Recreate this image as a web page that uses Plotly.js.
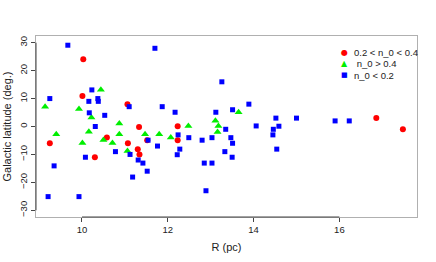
<!DOCTYPE html>
<html>
<head>
<meta charset="utf-8">
<script src="https://cdn.plot.ly/plotly-3.0.1.min.js"></script>
<style>html,body{margin:0;padding:0;background:#fff;} #chart{width:436px;height:262px;}</style>
</head>
<body>
<div id="chart"></div>
<script>
// Red: 0.2 < n_0 < 0.4
const redR = [10.03, 10.01, 11.06, 11.33, 9.25, 10.58, 11.07, 10.30, 11.30, 11.34, 11.52, 12.23, 12.23, 16.86, 17.48];
const redB = [24.1, 10.9, 8.0, -0.2, -6.0, -3.9, -6.0, -11.0, -8.1, -10.0, -4.9, 0.1, -4.9, 3.0, -1.0];

// Green: n_0 > 0.4
const greenR = [10.44, 9.14, 9.93, 10.22, 10.87, 9.40, 10.16, 10.01, 10.50, 10.87, 10.71, 11.06, 11.47, 11.80, 12.07, 12.48, 13.11, 13.18, 13.16, 13.65];
const greenB = [13.2, 7.1, 6.3, 3.2, 1.1, -2.8, -1.9, -5.9, -4.8, -2.8, -5.9, -8.8, -2.8, -2.8, -3.9, 0.2, 2.1, 0.2, -2.0, 5.1];

// Blue: n_0 < 0.2
const blueR = [9.67, 11.70, 10.23, 9.25, 10.37, 10.16, 10.38, 11.10, 11.87, 10.17, 10.53, 10.31, 13.26, 13.89, 13.51, 13.12, 12.17, 14.52, 14.06, 14.59, 13.35, 14.46, 15.00, 15.90, 16.23, 10.78, 10.08, 11.12, 11.54, 11.76, 11.31, 11.42, 11.52, 11.18, 9.35, 9.21, 9.93, 12.24, 12.49, 12.28, 12.22, 12.80, 13.03, 13.47, 13.51, 13.33, 13.50, 12.85, 13.03, 12.89, 14.45, 14.54];
const blueB = [29.1, 28.0, 13.1, 10.0, 10.0, 9.0, 9.0, 7.1, 7.1, 4.9, 4.0, 0.0, 16.0, 8.0, 6.0, 5.1, 5.1, 3.0, 0.2, 0.1, -1.0, -1.0, 3.0, 2.0, 2.0, -9.0, -11.0, -10.0, -4.9, -7.0, -12.0, -13.1, -16.0, -18.1, -14.1, -25.1, -25.1, -3.0, -4.0, -8.1, -10.1, -4.9, -4.0, -4.0, -6.0, -9.0, -11.0, -13.1, -13.1, -23.0, -3.0, -8.1];

const xTicks = [10, 12, 14, 16];
const yTicks = [-30, -20, -10, 0, 10, 20, 30];
const legendLabels = ['0.2 &lt; n_0 &lt; 0.4', ' n_0 &gt; 0.4', 'n_0 &lt; 0.2'];

const FONT = 'Liberation Sans, Arial, sans-serif';

const traces = [
  {x: redR, y: redB, name: '0.2 < n_0 < 0.4', type: 'scatter', mode: 'markers',
   marker: {symbol: 'circle', size: 6, color: '#ff0000'}, showlegend: false},
  {x: greenR, y: greenB, name: 'n_0 > 0.4', type: 'scatter', mode: 'markers',
   marker: {symbol: 'triangle-up', size: 7, color: '#00ee00'}, showlegend: false},
  {x: blueR, y: blueB, name: 'n_0 < 0.2', type: 'scatter', mode: 'markers',
   marker: {symbol: 'square', size: 5, color: '#0000ff'}, showlegend: false}
];

const legSym = [
  {t: '●', c: '#ff0000', s: 8},
  {t: '▲', c: '#00ee00', s: 8},
  {t: '■', c: '#0000ff', s: 7}
];
const legY = [0.9116, 0.847, 0.7845];
const annotations = [];
legendLabels.forEach((lab, i) => {
  annotations.push({xref: 'paper', yref: 'paper', x: 0.811, y: legY[i], xanchor: 'center', yanchor: 'middle',
    text: legSym[i].t, showarrow: false, font: {family: 'DejaVu Sans', size: legSym[i].s, color: legSym[i].c}});
  annotations.push({xref: 'paper', yref: 'paper', x: 0.8294, y: legY[i], xanchor: 'left', yanchor: 'middle',
    text: lab.replace(/^ /, '&#160;'), showarrow: false, font: {family: FONT, size: 9.5, color: '#222'}});
});

const layout = {
  width: 436, height: 262,
  margin: {l: 36, r: 19, t: 36, b: 45, pad: 0},
  paper_bgcolor: '#fff', plot_bgcolor: '#fff',
  font: {family: FONT, size: 9.5, color: '#222'},
  showlegend: false,
  xaxis: {
    range: [8.928, 17.809], tickvals: xTicks, ticktext: xTicks.map(String),
    ticks: 'outside', ticklen: 4, tickcolor: '#444', tickwidth: 1,
    showgrid: false, zeroline: false,
    showline: true, mirror: true, linecolor: '#b0b0b0', linewidth: 1,
    tickfont: {family: FONT, size: 9.5, color: '#222'},
    title: {text: 'R (pc)', font: {family: FONT, size: 11, color: '#222'}, standoff: 8}
  },
  yaxis: {
    range: [-32.4, 32.4], tickvals: yTicks, ticktext: yTicks.map(v => v < 0 ? '\u2212' + Math.abs(v) : String(v)),
    ticks: 'outside', ticklen: 4, tickcolor: '#444', tickwidth: 1, tickangle: -90,
    showgrid: false, zeroline: false,
    showline: true, mirror: true, linecolor: '#b0b0b0', linewidth: 1,
    tickfont: {family: FONT, size: 9.5, color: '#222'},
    title: {text: 'Galactic latitude (deg.)', font: {family: FONT, size: 11, color: '#222'}, standoff: 4}
  },
  shapes: [
    {type: 'line', xref: 'x', yref: 'paper', x0: xTicks[0], x1: xTicks[xTicks.length - 1], y0: 0, y1: 0,
     line: {color: '#444', width: 1}},
    {type: 'line', xref: 'paper', yref: 'y', x0: 0, x1: 0, y0: yTicks[0], y1: yTicks[yTicks.length - 1],
     line: {color: '#444', width: 1}}
  ],
  annotations: annotations
};

Plotly.newPlot('chart', traces, layout, {staticPlot: true, displayModeBar: false});
</script>
</body>
</html>
